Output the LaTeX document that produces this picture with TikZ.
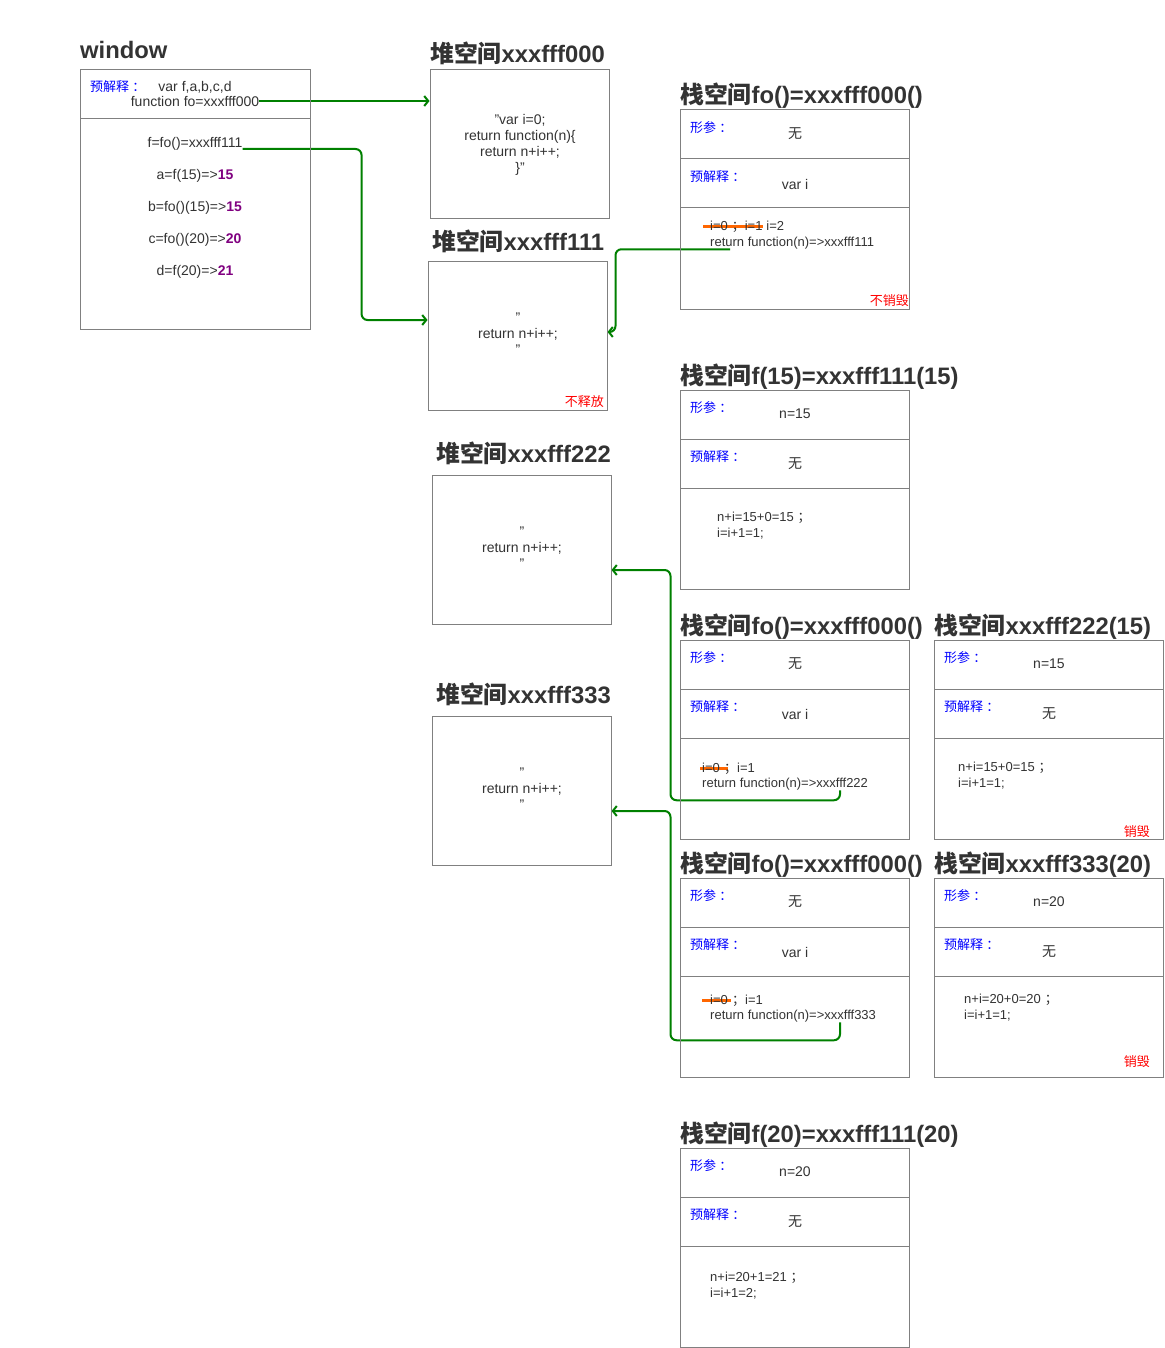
\documentclass[tikz,border=0pt]{standalone}
\usepackage{fontspec}
\setmainfont{Liberation Sans}
\newfontfamily\cjk{Noto Sans CJK SC}
\newcommand{\zh}[1]{{\cjk #1}}
\newcommand{\semi}{\hspace{0.3em}\zh{；}}
\newcommand{\colo}{\hspace{0.25em}\zh{：}}
\newcommand{\outval}[1]{\textbf{\textcolor{numpurple}{#1}}}
\usetikzlibrary{arrows.meta}
\definecolor{ink}{RGB}{51,51,51}
\definecolor{edge}{RGB}{128,128,128}
\definecolor{linkgreen}{RGB}{0,128,0}
\definecolor{strikeorange}{RGB}{255,102,0}
\definecolor{tagblue}{RGB}{0,0,255}
\definecolor{warnred}{RGB}{255,0,0}
\definecolor{numpurple}{RGB}{128,0,128}
\pgfdeclarelayer{bglayer}
\pgfdeclarelayer{edgelayer}
\pgfdeclarelayer{nodelayer}
\pgfsetlayers{bglayer,edgelayer,nodelayer,main}
\tikzstyle{cell}=[rectangle, draw=edge, line width=1pt, inner sep=0pt]
\tikzstyle{rowtop}=[cell, minimum width=229, minimum height=49]
\tikzstyle{rowlow}=[cell, minimum width=229, minimum height=101]
\tikzstyle{heap}=[cell, minimum width=179, minimum height=149]
\tikzstyle{txt}=[inner sep=0pt, text=ink, font=\fontsize{14}{16}\selectfont]
\tikzstyle{code}=[inner sep=0pt, text=ink, font=\fontsize{13}{16}\selectfont]
\tikzstyle{tag}=[inner sep=0pt, text=tagblue, anchor=west, font=\fontsize{13}{16}\selectfont]
\tikzstyle{warn}=[inner sep=0pt, text=warnred, anchor=east, font=\fontsize{13}{16}\selectfont]
\tikzstyle{head}=[inner sep=0pt, text=ink, anchor=base west, font=\fontsize{23.8}{28}\selectfont\bfseries]
\tikzstyle{link}=[draw=linkgreen, line width=2pt, rounded corners=6pt, -{Straight Barb[length=4pt,width=10pt]}]
\tikzstyle{strike}=[draw=strikeorange, line width=3pt]

\begin{document}
\begin{tikzpicture}[x=1pt, y=-1pt]
            \begin{pgfonlayer}{bglayer}
                \fill [white] (0,0) rectangle (1164,1348);
            \end{pgfonlayer}
            \useasboundingbox (0,0) rectangle (1164,1348);
            \begin{pgfonlayer}{nodelayer}
                % window
                \node [style=head] (winT) at (80,59) {window};
                \node [style=cell, minimum width=230, minimum height=49] (winA) at (195,94.5) {};
                \node [style=cell, minimum width=230, minimum height=210] (winB) at (195,224) {};
                \node [style=tag] (winP) at (90,87) {\zh{预解释}\colo};
                \node [style=txt] (wvar) at (195,87) {var f,a,b,c,d};
                \node [style=txt] (wfo) at (195,101) {function fo=xxxfff000};
                \node [style=txt] (wf) at (195,144) {f=fo()=xxxfff111};
                \node [style=txt] (wa) at (195,176) {a=f(15)=>\outval{15}};
                \node [style=txt] (wb) at (195,208) {b=fo()(15)=>\outval{15}};
                \node [style=txt] (wc) at (195,240) {c=fo()(20)=>\outval{20}};
                \node [style=txt] (wd) at (195,272) {d=f(20)=>\outval{21}};
                % heap
                \node [style=heap] (hA) at (519.5,144.5) {};
                \node [style=head] (hAT) at (430,63) {\zh{堆空间}xxxfff000};
                \node [style=txt, align=center] (hAcode) at (520,145) {"var i=0;\\return function(n)\{\\return n+i++;\\\}"};
                \node [style=heap] (hB) at (517.5,335.5) {};
                \node [style=head] (hBT) at (432,251) {\zh{堆空间}xxxfff111};
                \node [style=txt, align=center] (hBcode) at (518,334) {"\\return n+i++;\\"};
                \node [style=warn] (hBkeep) at (604,402) {\zh{不释放}};
                \node [style=heap] (hC) at (521.5,549.5) {};
                \node [style=head] (hCT) at (436,462) {\zh{堆空间}xxxfff222};
                \node [style=txt, align=center] (hCcode) at (522,548) {"\\return n+i++;\\"};
                \node [style=heap] (hD) at (521.5,790.5) {};
                \node [style=head] (hDT) at (436,703) {\zh{堆空间}xxxfff333};
                \node [style=txt, align=center] (hDcode) at (522,789) {"\\return n+i++;\\"};
                % stack fo()
                \node [style=rowtop] (s1a) at (794.5,134.5) {};
                \node [style=rowtop] (s1b) at (794.5,183.5) {};
                \node [style=rowlow] (s1c) at (794.5,258.5) {};
                \node [style=head] (s1T) at (680,104) {\zh{栈空间}fo()=xxxfff000()};
                \node [style=tag] (s1p) at (690,128) {\zh{形参}\colo};
                \node [style=txt] (s1pv) at (795,134) {\zh{无}};
                \node [style=tag] (s1d) at (690,177) {\zh{预解释}\colo};
                \node [style=txt] (s1dv) at (795,184) {var i};
                \node [style=code, anchor=west] (s1old) at (710,227) {i=0\semi i=1};
                \node [style=code, anchor=base west] (s1new) at ([xshift=3.5]s1old.base east) {i=2};
                \node [style=code, anchor=west] (s1ret) at (710,243) {return function(n)=>xxxfff111};
                \node [style=warn] (s1keep) at (909,301) {\zh{不销毁}};
                % stack f(15)
                \node [style=rowtop] (s2a) at (794.5,414.5) {};
                \node [style=rowtop] (s2b) at (794.5,463.5) {};
                \node [style=rowlow] (s2c) at (794.5,538.5) {};
                \node [style=head] (s2T) at (680,384) {\zh{栈空间}f(15)=xxxfff111(15)};
                \node [style=tag] (s2p) at (690,408) {\zh{形参}\colo};
                \node [style=txt] (s2pv) at (795,414) {n=15};
                \node [style=tag] (s2d) at (690,457) {\zh{预解释}\colo};
                \node [style=txt] (s2dv) at (795,464) {\zh{无}};
                \node [style=code, anchor=west, align=left] (s2calc) at (717,526) {n+i=15+0=15\semi\\i=i+1=1;};
                % stack fo() again
                \node [style=rowtop] (s3a) at (794.5,664.5) {};
                \node [style=rowtop] (s3b) at (794.5,713.5) {};
                \node [style=rowlow] (s3c) at (794.5,788.5) {};
                \node [style=head] (s3T) at (680,634) {\zh{栈空间}fo()=xxxfff000()};
                \node [style=tag] (s3p) at (690,658) {\zh{形参}\colo};
                \node [style=txt] (s3pv) at (795,664) {\zh{无}};
                \node [style=tag] (s3d) at (690,707) {\zh{预解释}\colo};
                \node [style=txt] (s3dv) at (795,714) {var i};
                \node [style=code, anchor=west] (s3old) at (702,768) {i=0};
                \node [style=code, anchor=base west] (s3new) at (s3old.base east) {\semi i=1};
                \node [style=code, anchor=west] (s3ret) at (702,784) {return function(n)=>xxxfff222};
                % stack xxxfff222(15)
                \node [style=rowtop] (s4a) at (1048.5,664.5) {};
                \node [style=rowtop] (s4b) at (1048.5,713.5) {};
                \node [style=rowlow] (s4c) at (1048.5,788.5) {};
                \node [style=head] (s4T) at (934,634) {\zh{栈空间}xxxfff222(15)};
                \node [style=tag] (s4p) at (944,658) {\zh{形参}\colo};
                \node [style=txt] (s4pv) at (1049,664) {n=15};
                \node [style=tag] (s4d) at (944,707) {\zh{预解释}\colo};
                \node [style=txt] (s4dv) at (1049,714) {\zh{无}};
                \node [style=code, anchor=west, align=left] (s4calc) at (958,776) {n+i=15+0=15\semi\\i=i+1=1;};
                \node [style=warn] (s4drop) at (1150,832) {\zh{销毁}};
                % stack fo() third
                \node [style=rowtop] (s5a) at (794.5,902.5) {};
                \node [style=rowtop] (s5b) at (794.5,951.5) {};
                \node [style=rowlow] (s5c) at (794.5,1026.5) {};
                \node [style=head] (s5T) at (680,872) {\zh{栈空间}fo()=xxxfff000()};
                \node [style=tag] (s5p) at (690,896) {\zh{形参}\colo};
                \node [style=txt] (s5pv) at (795,902) {\zh{无}};
                \node [style=tag] (s5d) at (690,945) {\zh{预解释}\colo};
                \node [style=txt] (s5dv) at (795,952) {var i};
                \node [style=code, anchor=west] (s5old) at (710,1000) {i=0};
                \node [style=code, anchor=base west] (s5new) at (s5old.base east) {\semi i=1};
                \node [style=code, anchor=west] (s5ret) at (710,1016) {return function(n)=>xxxfff333};
                % stack xxxfff333(20)
                \node [style=rowtop] (s6a) at (1048.5,902.5) {};
                \node [style=rowtop] (s6b) at (1048.5,951.5) {};
                \node [style=rowlow] (s6c) at (1048.5,1026.5) {};
                \node [style=head] (s6T) at (934,872) {\zh{栈空间}xxxfff333(20)};
                \node [style=tag] (s6p) at (944,896) {\zh{形参}\colo};
                \node [style=txt] (s6pv) at (1049,902) {n=20};
                \node [style=tag] (s6d) at (944,945) {\zh{预解释}\colo};
                \node [style=txt] (s6dv) at (1049,952) {\zh{无}};
                \node [style=code, anchor=west, align=left] (s6calc) at (964,1008) {n+i=20+0=20\semi\\i=i+1=1;};
                \node [style=warn] (s6drop) at (1150,1062) {\zh{销毁}};
                % stack f(20)
                \node [style=rowtop] (s7a) at (794.5,1172.5) {};
                \node [style=rowtop] (s7b) at (794.5,1221.5) {};
                \node [style=rowlow] (s7c) at (794.5,1296.5) {};
                \node [style=head] (s7T) at (680,1142) {\zh{栈空间}f(20)=xxxfff111(20)};
                \node [style=tag] (s7p) at (690,1166) {\zh{形参}\colo};
                \node [style=txt] (s7pv) at (795,1172) {n=20};
                \node [style=tag] (s7d) at (690,1215) {\zh{预解释}\colo};
                \node [style=txt] (s7dv) at (795,1222) {\zh{无}};
                \node [style=code, anchor=west, align=left] (s7calc) at (710,1286) {n+i=20+1=21\semi\\i=i+1=2;};
            \end{pgfonlayer}
            \begin{pgfonlayer}{edgelayer}
                \draw [style=link] (wfo.east) -- (wfo.east -| hA.west);
                \draw [style=link] ([yshift=-5]wf.east) -- ++(119,0) |- ([yshift=15.5]hB.west);
                \draw [style=link] ([xshift=20]s1ret.south west) -| ([xshift=8,yshift=3.5]hB.east) -- ([yshift=3.5]hB.east);
                \draw [style=link] ([xshift=138]s3ret.south west) -- ++(0,10) -| ([xshift=59,yshift=-20.5]hC.east) -- ([yshift=-20.5]hC.east);
                \draw [style=link] ([xshift=130]s5ret.south west) -- ++(0,18) -| ([xshift=59,yshift=-20.5]hD.east) -- ([yshift=-20.5]hD.east);
                \draw [style=strike] ([xshift=-7]s1old.west) -- (s1old.east);
                \draw [style=strike] ([xshift=-2]s3old.west) -- ([xshift=8]s3old.east);
                \draw [style=strike] ([xshift=-8]s5old.west) -- ([xshift=3]s5old.east);
            \end{pgfonlayer}
        \end{tikzpicture}
\end{document}
